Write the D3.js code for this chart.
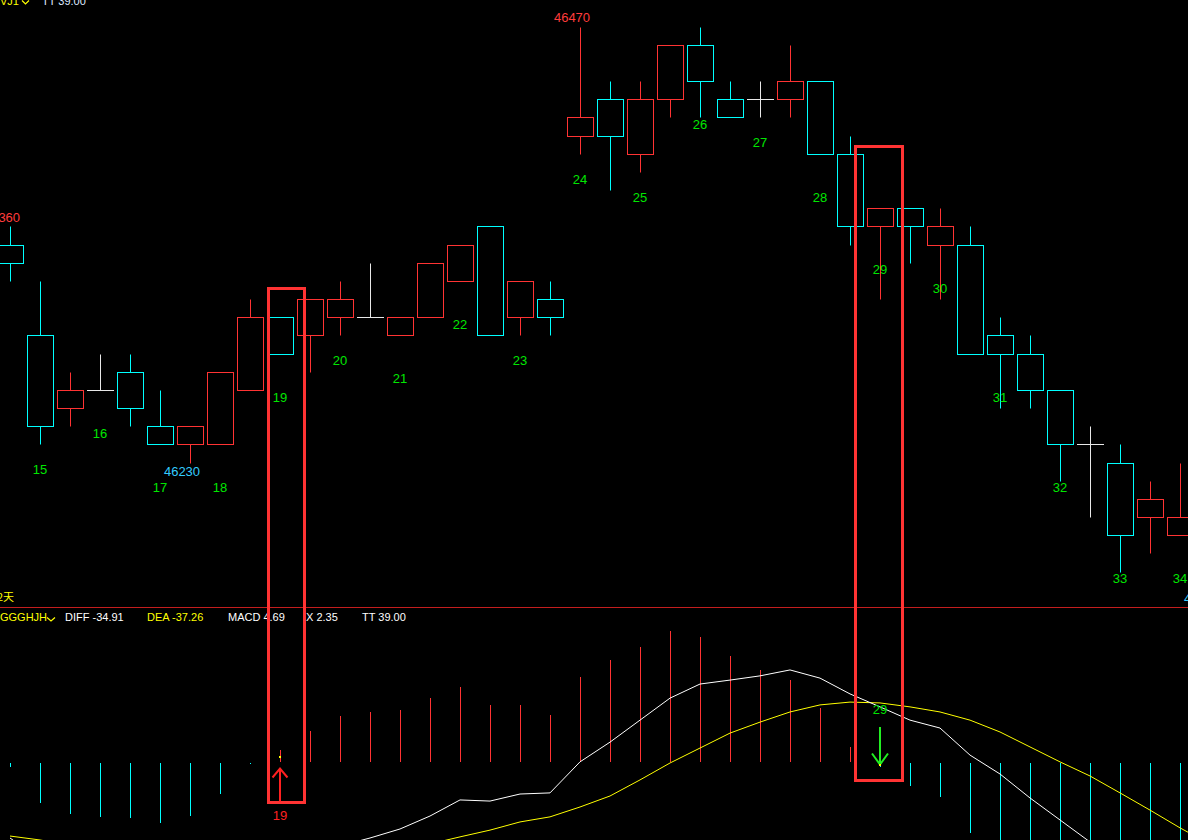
<!DOCTYPE html>
<html><head><meta charset="utf-8">
<script src="https://cdn.jsdelivr.net/npm/d3@7"></script>
<style>html,body{margin:0;padding:0;background:#000;overflow:hidden}svg{display:block;background:#000}</style>
</head><body>
<svg id="c" width="1188" height="840"></svg>
<script>
// ---- candle data (price units) ----
const opens  = [46350,46300,46260,46270,46280,46250,46240,46240,46270,46310,46300,46310,46310,46300,46310,46330,46360,46310,46320,46410,46430,46400,46430,46460,46430,46430,46430,46440,46400,46360,46370,46350,46350,46300,46290,46270,46240,46230,46200,46190];
const highs  = [46360,46330,46280,46290,46290,46270,46250,46280,46320,46310,46320,46330,46340,46310,46340,46350,46360,46330,46330,46470,46440,46440,46460,46470,46440,46440,46460,46440,46410,46370,46370,46370,46360,46310,46300,46270,46250,46240,46220,46230];
const lows   = [46330,46240,46250,46270,46250,46240,46230,46240,46270,46290,46280,46300,46310,46300,46310,46330,46300,46300,46300,46400,46380,46390,46420,46420,46420,46420,46420,46400,46350,46320,46340,46320,46290,46260,46260,46220,46200,46170,46180,46190];
const closes = [46340,46250,46270,46270,46260,46240,46250,46280,46310,46290,46320,46320,46310,46310,46340,46350,46300,46330,46310,46420,46410,46430,46460,46440,46420,46430,46440,46400,46360,46370,46360,46360,46290,46290,46270,46240,46240,46190,46210,46200];

// ---- wave count labels ----
const countText  = ["15","16","17","18","19","20","21","22","23","24","25","26","27","28","29","30","31","32","33","34"];
const countIndex = [1,3,5,7,9,11,13,15,17,19,21,23,25,27,29,31,33,35,37,39];
const countPrice = [46226,46246,46216,46216,46266,46286,46276,46306,46286,46386,46376,46416,46406,46376,46336,46326,46266,46216,46166,46166];

// ---- extreme price labels ----
const extremeIndex = [0,19,6,40];
const extremePrice = [46360,46470,46230,46160];
const extremeType  = ["high","high","low","low"];

// ---- MACD indicator ----
const diffVals = [-26.6,-34.0,-37.9,-40.1,-42.2,-45.4,-45.7,-43.3,-37.9,-34.91,-31.6,-29.4,-26.6,-23.4,-18.8,-13.1,-13.5,-11.0,-10.6,0.4,7.4,15.2,23.0,28.0,29.4,30.9,33.0,30.1,24.5,19.9,15.2,12.4,2.8,-3.9,-12.4,-20.2,-28.0,-35.1,-41.5,-46.8,-52.0];
const deaVals  = [-25.9,-27.3,-29.1,-30.9,-32.6,-34.8,-36.5,-37.2,-37.6,-37.26,-36.2,-34.4,-32.6,-30.9,-28.7,-26.2,-23.8,-20.9,-19.1,-15.6,-11.7,-6.0,0.0,5.3,10.6,14.5,18.1,20.6,21.6,21.3,19.9,18.1,15.2,11.0,5.7,0.4,-4.6,-10.6,-16.7,-23.0,-28.8];
const macdVals = [-1.4,-14.2,-18.1,-19.1,-19.5,-21.3,-18.8,-11.0,-0.5,4.69,11.3,16.7,18.1,18.8,23.0,27.0,20.6,20.6,17.0,30.5,36.5,41.1,46.8,44.7,37.9,33.0,29.4,19.5,5.7,-1.4,-8.2,-12.1,-24.8,-29.8,-36.2,-41.1,-44.0,-46.1,-46.8,-45.4];

// ---- signals ----
const signalIndex  = [9,29];
const signalText   = ["19","29"];
const signalDir    = ["up","down"];
const signalTopPx  = [46326,46404];   // price at top of highlight box
const signalBotVal = [-14.0,-6.2];    // indicator value at bottom of highlight box

// ---- header texts ----
const topHeader = [{t:"VJ1",c:"#ffff00"},{t:"TT 39.00",c:"#dfe9ff"}];
const macdHeader = [{t:"GGGHJH",c:"#ffff00"},{t:"DIFF -34.91",c:"#ffffff"},{t:"DEA -37.26",c:"#ffff00"},{t:"MACD 4.69",c:"#ffffff"},{t:"X 2.35",c:"#ffffff"},{t:"TT 39.00",c:"#ffffff"}];

const RED="#ff3333", CYAN="#00ffff", WHITE="#e8e8e8", GREEN="#00e600", YEL="#ffff00";
const FONT="'Liberation Sans', Arial, sans-serif";

const svg = d3.select("#c");
const x = d3.scaleLinear().domain([0,1]).range([10,40]);
const yP = d3.scaleLinear().domain([46470,46230]).range([26.5,462.5]);
const yM = d3.scaleLinear().domain([0,10]).range([763,734.8]);
const r = v => Math.round(v)+0.5;

const defs = svg.append("defs");
defs.append("clipPath").attr("id","cpMain").append("rect").attr("x",0).attr("y",0).attr("width",1188).attr("height",606);
defs.append("clipPath").attr("id","cpMacd").append("rect").attr("x",0).attr("y",608).attr("width",1188).attr("height",232);

// ---- main candles ----
const gMain = svg.append("g").attr("clip-path","url(#cpMain)");
opens.forEach((o,i)=>{
  const c=closes[i], h=highs[i], l=lows[i];
  const col = c>o?RED:(c<o?CYAN:WHITE);
  const cx = x(i)+0.5;
  if(o===c){
    gMain.append("line").attr("x1",cx).attr("x2",cx).attr("y1",r(yP(h))).attr("y2",r(yP(l))).attr("stroke",col);
    gMain.append("line").attr("x1",x(i)-13).attr("x2",x(i)+14).attr("y1",r(yP(o))).attr("y2",r(yP(o))).attr("stroke",col);
  } else {
    const top=Math.max(o,c), bot=Math.min(o,c);
    const yt=r(yP(top)), yb=r(yP(bot));
    if(h>top) gMain.append("line").attr("x1",cx).attr("x2",cx).attr("y1",r(yP(h))).attr("y2",yt).attr("stroke",col);
    if(l<bot) gMain.append("line").attr("x1",cx).attr("x2",cx).attr("y1",yb).attr("y2",r(yP(l))).attr("stroke",col);
    gMain.append("rect").attr("x",x(i)-12.5).attr("y",yt).attr("width",26).attr("height",yb-yt)
      .attr("fill","none").attr("stroke",col);
  }
});

// count labels
countText.forEach((t,k)=>{
  gMain.append("text").attr("x",x(countIndex[k])).attr("y",yP(countPrice[k]))
    .attr("text-anchor","middle").attr("dominant-baseline","central")
    .attr("font-family",FONT).attr("font-size",13).attr("fill",GREEN).text(t);
});
// extremes
extremeIndex.forEach((i,k)=>{
  const isHigh = extremeType[k]==="high";
  const yy = yP(extremePrice[k]) + (isHigh?-9:9);
  gMain.append("text").attr("x",x(i)-8).attr("y",yy)
    .attr("text-anchor","middle").attr("dominant-baseline","central")
    .attr("font-family",FONT).attr("font-size",13).attr("fill",isHigh?"#ff3c3c":"#33ccff")
    .text(d3.format("d")(extremePrice[k]));
});

// ---- top header ----
svg.append("text").attr("x",0).attr("y",5).attr("font-family",FONT).attr("font-size",11).attr("fill",topHeader[0].c).text(topHeader[0].t);
svg.append("path").attr("d","M22,0.5 L25.5,4 L29,0.5").attr("fill","none").attr("stroke",YEL).attr("stroke-width",1.2);
svg.append("text").attr("x",42).attr("y",5).attr("font-family",FONT).attr("font-size",11).attr("fill",topHeader[1].c).text(topHeader[1].t);

// bottom of main panel text
svg.append("text").attr("x",-3).attr("y",601).attr("font-family","'Noto Sans CJK SC', sans-serif").attr("font-size",11).attr("fill",YEL).text("2天");

// divider
svg.append("rect").attr("x",0).attr("y",607).attr("width",1188).attr("height",1).attr("fill","#c41e1e");

// ---- MACD header ----
const hx=[0,65,147,228,306,362];
macdHeader.forEach((h,k)=>{
  svg.append("text").attr("x",hx[k]).attr("y",621).attr("font-family",FONT).attr("font-size",11).attr("fill",h.c).text(h.t);
});
svg.append("path").attr("d","M47,617.5 L51,621 L55,617.5").attr("fill","none").attr("stroke",YEL).attr("stroke-width",1.2);

// ---- MACD panel ----
const gM = svg.append("g").attr("clip-path","url(#cpMacd)");
macdVals.forEach((v,i)=>{
  const cx=x(i)+0.5;
  const y0 = v>=0 ? 762 : 763;
  gM.append("line").attr("x1",cx).attr("x2",cx).attr("y1",y0).attr("y2",Math.round(yM(v)))
    .attr("stroke",v>=0?RED:CYAN).attr("stroke-width",1);
});
const line = d3.line().x((d,i)=>x(i)).y(d=>yM(d));
gM.append("path").datum(deaVals).attr("d",line).attr("fill","none").attr("stroke",YEL).attr("stroke-width",1);
gM.append("path").datum(diffVals).attr("d",line).attr("fill","none").attr("stroke","#ffffff").attr("stroke-width",1);

// ---- signals ----
const padL=[11.5,24.5], padR=[24.5,22.5];
signalIndex.forEach((i,k)=>{
  const cx=x(i);
  const yt=r(yP(signalTopPx[k])), yb=r(yM(signalBotVal[k]));
  svg.append("rect").attr("x",cx-padL[k]).attr("y",yt).attr("width",padL[k]+padR[k]).attr("height",yb-yt)
    .attr("fill","none").attr("stroke",RED).attr("stroke-width",3);
  if(signalDir[k]==="up"){
    svg.append("line").attr("x1",cx).attr("x2",cx).attr("y1",yb-1).attr("y2",769).attr("stroke","#ff2020").attr("stroke-width",2);
    svg.append("path").attr("d",`M${cx-7.5},777.5 L${cx},768.5 L${cx+7.5},777.5`).attr("fill","none").attr("stroke","#ff2020").attr("stroke-width",2);
    svg.append("rect").attr("x",cx-1).attr("y",756).attr("width",2).attr("height",2).attr("fill",YEL);
    svg.append("text").attr("x",cx).attr("y",815).attr("text-anchor","middle").attr("dominant-baseline","central")
      .attr("font-family",FONT).attr("font-size",13).attr("fill","#ff2020").text(signalText[k]);
  } else {
    svg.append("line").attr("x1",cx).attr("x2",cx).attr("y1",727).attr("y2",764).attr("stroke","#22ee22").attr("stroke-width",2);
    svg.append("path").attr("d",`M${cx-8},753.5 L${cx},764.5 L${cx+8},753.5`).attr("fill","none").attr("stroke","#22ee22").attr("stroke-width",2);
    svg.append("rect").attr("x",cx-1).attr("y",764).attr("width",2).attr("height",2).attr("fill",YEL);
    svg.append("text").attr("x",cx).attr("y",709).attr("text-anchor","middle").attr("dominant-baseline","central")
      .attr("font-family",FONT).attr("font-size",13).attr("fill",GREEN).text(signalText[k]);
  }
});
</script>
</body></html>
